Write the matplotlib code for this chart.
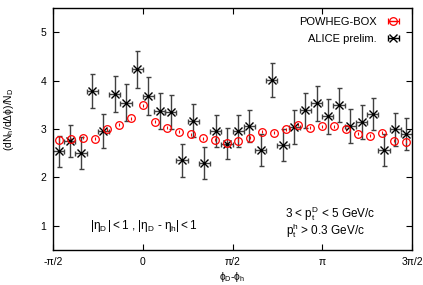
import numpy as np
import matplotlib
matplotlib.use("Agg")
import matplotlib.pyplot as plt

plt.rcParams['font.family'] = ['Liberation Sans', 'DejaVu Sans']
plt.rcParams['mathtext.fontset'] = 'custom'
plt.rcParams['mathtext.rm'] = 'Liberation Sans'
plt.rcParams['mathtext.it'] = 'Liberation Sans'
plt.rcParams['mathtext.default'] = 'regular'

# POWHEG-BOX: 30 bins over [-pi/2, 3pi/2]
powheg_vals = [2.78, 2.79, 2.82, 2.80, 2.99, 3.09, 3.22, 3.49, 3.15, 3.03,
               2.94, 2.89, 2.81, 2.78, 2.71, 2.76, 2.82, 2.94, 2.92, 2.99,
               3.09, 3.03, 3.06, 3.06, 2.99, 2.90, 2.86, 2.92, 2.76, 2.74]
powheg_err = [0.03] * 30

# ALICE prelim.: 32 bins
alice_vals = [2.54, 2.75, 2.50, 3.79, 2.95, 3.73, 3.54, 4.23, 3.68, 3.37,
              3.35, 2.35, 3.17, 2.30, 2.95, 2.70, 2.95, 3.06, 2.56, 4.01,
              2.67, 3.04, 3.39, 3.53, 3.26, 3.49, 3.07, 3.15, 3.31, 2.56,
              2.99, 2.89]
alice_err = [0.32, 0.33, 0.33, 0.35, 0.35, 0.37, 0.38, 0.39, 0.39, 0.38,
             0.36, 0.35, 0.34, 0.33, 0.33, 0.33, 0.33, 0.33, 0.33, 0.35,
             0.34, 0.35, 0.36, 0.36, 0.36, 0.35, 0.35, 0.35, 0.34, 0.33,
             0.34, 0.33]

xticks = [-np.pi / 2, 0, np.pi / 2, np.pi, 3 * np.pi / 2]
xtick_labels = ['-π/2', '0', 'π/2', 'π', '3π/2']

lo, hi = -np.pi / 2, 3 * np.pi / 2
w_pw = (hi - lo) / len(powheg_vals)
x_pw = lo + (np.arange(len(powheg_vals)) + 0.5) * w_pw
w_al = (hi - lo) / len(alice_vals)
x_al = lo + (np.arange(len(alice_vals)) + 0.5) * w_al

fig = plt.figure(figsize=(4.23, 2.85), dpi=100)
ax = fig.add_axes([0.1253, 0.1228, 0.8487, 0.8492])

ax.errorbar(x_al, alice_vals, yerr=alice_err, xerr=w_al / 2, fmt='x',
            color='black', ecolor='0.25', elinewidth=1.0, capsize=1.8,
            capthick=1.0, markersize=5.5, markeredgewidth=1.0)
ax.errorbar(x_pw, powheg_vals, yerr=powheg_err, fmt='o', color='red',
            mfc='none', markersize=5.5, markeredgewidth=0.9,
            elinewidth=0.8, capsize=0)

# legend handles: marker + horizontal bar like the original
h_pw = ax.errorbar([np.nan], [np.nan], xerr=[0.1], fmt='o', color='red',
                   mfc='none', markersize=5.5, markeredgewidth=0.9,
                   capsize=2, elinewidth=1.0)
h_al = ax.errorbar([np.nan], [np.nan], xerr=[0.1], fmt='x', color='black',
                   markersize=5.5, markeredgewidth=1.0, capsize=2,
                   elinewidth=1.0)
ax.legend([h_pw, h_al], ['POWHEG-BOX', 'ALICE prelim.'], loc='upper right',
          frameon=False, markerfirst=False, fontsize=8, handlelength=1.8,
          borderaxespad=0.4, labelspacing=0.6, handletextpad=0.6)

ax.set_xlim(lo, hi)
ax.set_ylim(0.5, 5.5)
ax.set_xticks(xticks)
ax.set_xticklabels(xtick_labels)
ax.set_yticks([1, 2, 3, 4, 5])
ax.tick_params(direction='in', top=True, right=True, labelsize=7.5,
               length=4, width=0.8, pad=5)
for s in ax.spines.values():
    s.set_linewidth(1.0)

ax.set_xlabel('$\\phi_D$-$\\phi_h$', fontsize=7.5, labelpad=2)
fig.text(9 / 423, 1 - 119 / 285, '(dN$_h$/d$\\Delta\\phi$)/N$_D$',
         fontsize=7.5, rotation=90, ha='center', va='center')

ax.text(0.02, 1.0, '$|\\eta_D\\,| < 1$ , $|\\eta_D$ - $\\eta_h| < 1$',
        fontsize=8.5, ha='center', va='center')
ax.text(2.49, 1.26, '3 < p$_t^D$ < 5 GeV/c', fontsize=8.5, ha='left',
        va='center')
ax.text(2.51, 0.89, 'p$_t^h$ > 0.3 GeV/c', fontsize=8.5, ha='left',
        va='center')

fig.savefig('out.png', dpi=100)
